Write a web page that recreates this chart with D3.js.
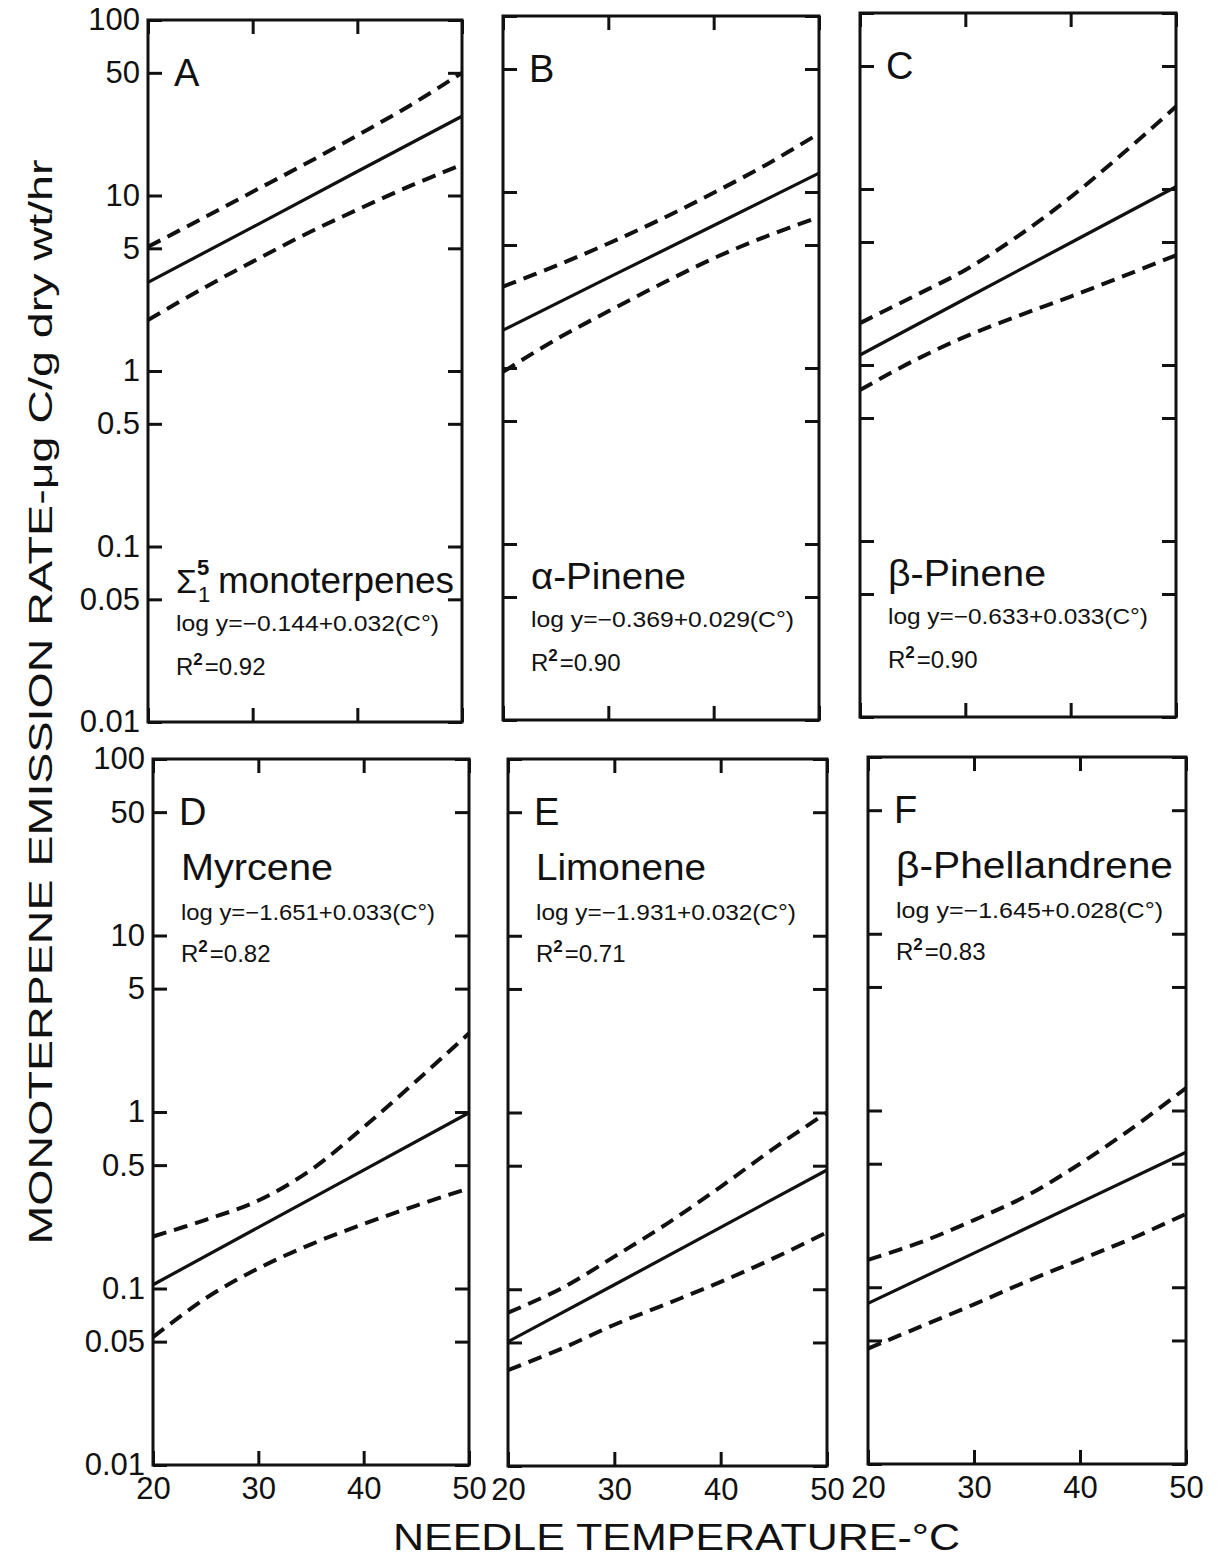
<!DOCTYPE html>
<html>
<head>
<meta charset="utf-8">
<script src="https://cdn.jsdelivr.net/npm/d3@7"></script>
<style>
  body { margin: 0; background: #fff; }
  text { font-family: "Liberation Sans", Arial, sans-serif; fill: #111; }
</style>
</head>
<body>
<div id="chart"></div>
<script>
// values (emission rate, ug C / g dry wt / hr)
const temps = [20, 25, 30, 35, 40, 45, 50];
const fitTemps = [20, 30, 40, 50];
const panelLetters = ["A", "B", "C", "D", "E", "F"];
const compoundNames = ["monoterpenes", "α-Pinene", "β-Pinene", "Myrcene", "Limonene", "β-Phellandrene"];
const equations = [
  "log y=−0.144+0.032(C°)",
  "log y=−0.369+0.029(C°)",
  "log y=−0.633+0.033(C°)",
  "log y=−1.651+0.033(C°)",
  "log y=−1.931+0.032(C°)",
  "log y=−1.645+0.028(C°)"
];
const rSquared = ["0.92", "0.90", "0.90", "0.82", "0.71", "0.83"];

const fitRates = [
  [3.2, 6.6, 13.7, 28.3],
  [1.64, 3.26, 6.45, 12.8],
  [1.14, 2.38, 4.95, 10.3],
  [0.105, 0.222, 0.469, 0.99],
  [0.0505, 0.106, 0.224, 0.473],
  [0.081, 0.156, 0.301, 0.58]
];
const upperRates = [
  [5.1, 7.3, 10.5, 15.1, 22, 32.5, 50],
  [2.9, 3.8, 5.1, 7.0, 9.9, 14.3, 21.5],
  [1.73, 2.44, 3.47, 5.4, 9.0, 16, 29.4],
  [0.197, 0.245, 0.315, 0.47, 0.82, 1.5, 2.79],
  [0.0736, 0.101, 0.153, 0.236, 0.38, 0.627, 1.0],
  [0.143, 0.18, 0.24, 0.33, 0.5, 0.8, 1.34]
];
const lowerRates = [
  [1.95, 2.9, 4.2, 6.0, 8.3, 11.3, 15],
  [0.95, 1.45, 2.1, 3.0, 4.2, 5.6, 7.2],
  [0.72, 1.05, 1.45, 1.9, 2.45, 3.2, 4.2],
  [0.053, 0.088, 0.13, 0.178, 0.232, 0.295, 0.37],
  [0.0349, 0.046, 0.063, 0.083, 0.11, 0.15, 0.21],
  [0.045, 0.06, 0.08, 0.108, 0.143, 0.19, 0.26]
];

const yTickValues = [100, 50, 10, 5, 1, 0.5, 0.1, 0.05, 0.01];
const yTickLabels = ["100", "50", "10", "5", "1", "0.5", "0.1", "0.05", "0.01"];
const xTickValues = [20, 30, 40, 50];

function main() {
  const svg = d3.select("#chart")
    .append("svg")
    .attr("width", 1219)
    .attr("height", 1561);

  // frame of every panel (the scan is a little skewed, so each has its own box)
  const boxes = [
    {x0: 148, y0: 20, x1: 462, y1: 722},
    {x0: 503, y0: 16, x1: 819, y1: 720},
    {x0: 860, y0: 13, x1: 1176, y1: 717},
    {x0: 153, y0: 759, x1: 469, y1: 1465},
    {x0: 508, y0: 759, x1: 827, y1: 1466},
    {x0: 868, y0: 757, x1: 1186, y1: 1464}
  ];
  const nameLen = [236, 155, 158, 152, 170, 277];
  const eqLen = [263, 263, 260, 254, 260, 267];

  const tickLen = 14;

  boxes.forEach(function(b, i) {
    const topRow = i < 3;
    const x = d3.scaleLinear().domain([20, 50]).range([b.x0, b.x1]);
    const y = d3.scaleLog().domain([0.01, 100]).range([b.y1, b.y0]);
    const g = svg.append("g");

    // axes, ticks pointing inward
    const left = g.append("g")
      .attr("transform", `translate(${b.x0},0)`)
      .call(d3.axisLeft(y).tickValues(yTickValues).tickSize(-tickLen).tickSizeOuter(0).tickPadding(8)
        .tickFormat(function(d, k) { return (i % 3 === 0) ? yTickLabels[k] : ""; }));
    const right = g.append("g")
      .attr("transform", `translate(${b.x1},0)`)
      .call(d3.axisRight(y).tickValues(yTickValues).tickSize(-tickLen).tickSizeOuter(0).tickFormat(""));
    const bottom = g.append("g")
      .attr("transform", `translate(0,${b.y1})`)
      .call(d3.axisBottom(x).tickValues(xTickValues).tickSize(-tickLen).tickSizeOuter(0).tickPadding(12)
        .tickFormat(function(d) { return topRow ? "" : d; }));
    const top = g.append("g")
      .attr("transform", `translate(0,${b.y0})`)
      .call(d3.axisTop(x).tickValues(xTickValues).tickSize(-tickLen).tickSizeOuter(0).tickFormat(""));

    [left, right, bottom, top].forEach(function(a) {
      a.select(".domain").remove();
      a.selectAll(".tick line").attr("stroke", "#111").attr("stroke-width", 3);
      a.selectAll(".tick text")
        .attr("font-family", "Liberation Sans, Arial, sans-serif")
        .attr("font-size", 31)
        .attr("fill", "#111");
    });

    g.append("rect")
      .attr("x", b.x0).attr("y", b.y0)
      .attr("width", b.x1 - b.x0).attr("height", b.y1 - b.y0)
      .attr("fill", "none").attr("stroke", "#111").attr("stroke-width", 3);

    // regression line and confidence bands
    const band = d3.line()
      .x(function(d, k) { return x(temps[k]); })
      .y(function(d) { return y(d); })
      .curve(d3.curveCatmullRom.alpha(0.5));
    const fit = d3.line()
      .x(function(d, k) { return x(fitTemps[k]); })
      .y(function(d) { return y(d); });

    [upperRates[i], lowerRates[i]].forEach(function(vals) {
      g.append("path")
        .attr("d", band(vals))
        .attr("fill", "none")
        .attr("stroke", "#111")
        .attr("stroke-width", 4)
        .attr("stroke-dasharray", "14 8");
    });
    g.append("path")
      .attr("d", fit(fitRates[i]))
      .attr("fill", "none")
      .attr("stroke", "#111")
      .attr("stroke-width", 3.2);

    // labels
    const tx = b.x0 + 28;
    g.append("text")
      .attr("x", b.x0 + 26).attr("y", b.y0 + 66)
      .attr("font-size", 38)
      .text(panelLetters[i]);

    const nameY = topRow ? b.y0 + 573 : b.y0 + 121;
    const eqY = topRow ? b.y0 + 611 : b.y0 + 161;
    const rY = topRow ? b.y0 + 655 : b.y0 + 203;

    if (i === 0) {
      g.append("text").attr("x", tx).attr("y", nameY).attr("font-size", 34).text("Σ");
      g.append("text").attr("x", tx + 21).attr("y", nameY - 18).attr("font-size", 22)
        .attr("font-weight", "bold").text("5");
      g.append("text").attr("x", tx + 22).attr("y", nameY + 9).attr("font-size", 22).text("1");
      g.append("text").attr("x", tx + 42).attr("y", nameY).attr("font-size", 36)
        .attr("textLength", nameLen[i]).attr("lengthAdjust", "spacingAndGlyphs")
        .text(compoundNames[i]);
    } else {
      g.append("text").attr("x", tx).attr("y", nameY).attr("font-size", 36)
        .attr("textLength", nameLen[i]).attr("lengthAdjust", "spacingAndGlyphs")
        .text(compoundNames[i]);
    }

    g.append("text").attr("x", tx).attr("y", eqY).attr("font-size", 22)
      .attr("textLength", eqLen[i]).attr("lengthAdjust", "spacingAndGlyphs")
      .text(equations[i]);

    const r = g.append("text").attr("x", tx).attr("y", rY).attr("font-size", 24);
    r.append("tspan").text("R");
    r.append("tspan").attr("dy", -10).attr("font-size", 17).attr("font-weight", "bold").text("2");
    r.append("tspan").attr("dy", 10).attr("dx", 2).text("=" + rSquared[i]);
  });

  // axis titles
  svg.append("text")
    .attr("transform", "translate(52,702) rotate(-90)")
    .attr("text-anchor", "middle")
    .attr("font-size", 34)
    .attr("textLength", 1085)
    .attr("lengthAdjust", "spacingAndGlyphs")
    .text("MONOTERPENE EMISSION RATE-μg C/g dry wt/hr");

  svg.append("text")
    .attr("x", 393).attr("y", 1550)
    .attr("font-size", 37)
    .attr("textLength", 567)
    .attr("lengthAdjust", "spacingAndGlyphs")
    .text("NEEDLE TEMPERATURE-°C");
}

main()
</script>
</body>
</html>
